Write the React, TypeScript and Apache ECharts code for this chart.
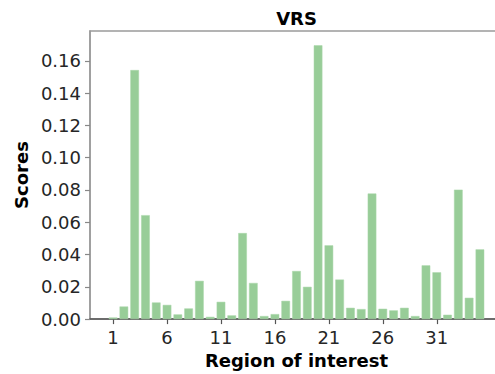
import React, { useEffect, useRef } from "react";
import * as echarts from "echarts";

// Region indices 1..35 and their VRS scores
const regions: number[] = Array.from({ length: 35 }, (_, i) => i + 1);
const scores: number[] = [
  0.001, 0.0078, 0.1543, 0.0644, 0.0103, 0.0088, 0.0029, 0.0066, 0.0237, 0.0014,
  0.0107, 0.0023, 0.0533, 0.0224, 0.0019, 0.0031, 0.0113, 0.0298, 0.02, 0.1696,
  0.0457, 0.0245, 0.007, 0.0062, 0.0778, 0.0064, 0.0054, 0.007, 0.0019, 0.0333,
  0.029, 0.0027, 0.0802, 0.0132, 0.0432,
];
const xTicks: number[] = [1, 6, 11, 16, 21, 26, 31];
const yTicks: number[] = [0, 0.02, 0.04, 0.06, 0.08, 0.1, 0.12, 0.14, 0.16];

const X_MIN = -1.14;
const X_MAX = 37.14;
const Y_MAX = 0.1785;

const GRID_LEFT = 90;
const GRID_TOP = 31;
const GRID_W = 413;
const GRID_H = 289;

export default function App() {
  const ref = useRef<HTMLDivElement>(null);

  useEffect(() => {
    if (!ref.current) return;
    const chart = echarts.init(ref.current, null, { renderer: "svg" });
    const barWidth = (0.8 * GRID_W) / (X_MAX - X_MIN);
    const font = "DejaVu Sans";

    chart.setOption({
      animation: false,
      backgroundColor: "#ffffff",
      textStyle: { fontFamily: font },
      graphic: [
        {
          type: "text",
          x: GRID_LEFT + GRID_W / 2,
          y: 18,
          style: {
            text: "VRS",
            fontFamily: font,
            fontSize: 18,
            fontWeight: "bold",
            fill: "#000",
            align: "center",
            verticalAlign: "middle",
          },
        },
      ],
      grid: {
        left: GRID_LEFT,
        top: GRID_TOP,
        width: GRID_W,
        height: GRID_H,
        show: true,
        borderColor: "#9a9a9a",
        borderWidth: 1.5,
        backgroundColor: "transparent",
      },
      xAxis: {
        type: "value",
        min: X_MIN,
        max: X_MAX,
        name: "Region of interest",
        nameLocation: "middle",
        nameGap: 29,
        nameTextStyle: { fontFamily: font, fontSize: 18, fontWeight: "bold", color: "#000" },
        axisLine: { show: true, onZero: false, lineStyle: { color: "#555", width: 1.5 } },
        axisTick: { show: true, length: 5, customValues: xTicks, lineStyle: { color: "#555", width: 1.2 } },
        axisLabel: {
          customValues: xTicks,
          margin: 9,
          fontFamily: font,
          fontSize: 18,
          color: "#262626",
        },
        splitLine: { show: false },
      },
      yAxis: {
        type: "value",
        min: 0,
        max: Y_MAX,
        name: "Scores",
        nameLocation: "middle",
        nameGap: 57,
        nameRotate: 90,
        nameTextStyle: { fontFamily: font, fontSize: 18, fontWeight: "bold", color: "#000" },
        axisLine: { show: true, onZero: false, lineStyle: { color: "#9a9a9a", width: 1.5 } },
        axisTick: { show: true, length: 5, customValues: yTicks, lineStyle: { color: "#888", width: 1.2 } },
        axisLabel: {
          customValues: yTicks,
          margin: 9,
          fontFamily: font,
          fontSize: 18,
          color: "#262626",
          formatter: (v: number) => v.toFixed(2),
        },
        splitLine: { show: false },
      },
      series: [
        {
          type: "bar",
          data: regions.map((r, i) => [r, scores[i]]),
          barWidth,
          itemStyle: { color: "#98cd98", borderColor: "#a8d6a8", borderWidth: 0.5 },
        },
      ],
    });

    return () => chart.dispose();
  }, []);

  return (
    <div
      style={{
        position: "fixed",
        left: 0,
        top: 0,
        width: 495,
        height: 374,
        overflow: "hidden",
        background: "#fff",
      }}
    >
      <div ref={ref} style={{ width: 520, height: 374 }} />
    </div>
  );
}
